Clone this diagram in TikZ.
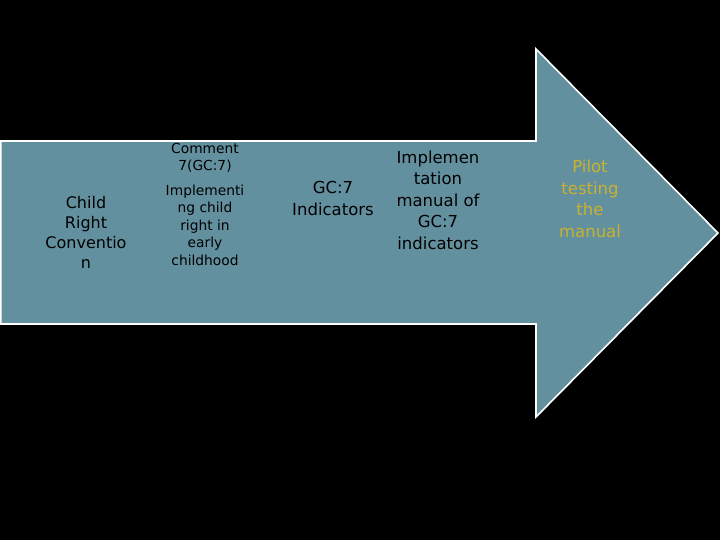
\documentclass[tikz,border=0pt]{standalone}
\usepackage{fontspec}
\setmainfont{DejaVu Sans}
\usetikzlibrary{positioning}
\definecolor{arrowTeal}{HTML}{63909F}
\definecolor{stepGold}{HTML}{C9B22E}

\tikzset{
  steptext/.style={align=center, text=black, inner sep=0pt},
  bigtext/.style={steptext, font=\fontsize{16}{20}\selectfont},
  smalltext/.style={steptext, font=\fontsize{13.8}{17.5}\selectfont},
}

\begin{document}
\begin{tikzpicture}[x=1pt, y=-1pt]
  \fill[black] (0,0) rectangle (720,540);
  \useasboundingbox (0,0) rectangle (720,540);
  % the arrow
  \draw[white, line width=1.6pt, fill=arrowTeal, line join=miter]
    (0.8,141) -- (536,141) -- (536,49) -- (718,233) -- (536,417) -- (536,324) -- (0.8,324) -- cycle;
  % steps
  \node[bigtext] (crc) at (86,232) {Child\\Right\\Conventio\\n};
  \node[smalltext] (comment) at (205,158) {Comment\\7(GC:7)};
  \node[smalltext] (early) at (205,225) {Implementi\\ng child\\right in\\early\\childhood};
  \node[bigtext, font=\fontsize{16.5}{22}\selectfont] (gcind) at (333,198) {GC:7\\Indicators};
  \node[bigtext, font=\fontsize{16.5}{21.5}\selectfont] (manual) at (438,200) {Implemen\\tation\\manual of\\GC:7\\indicators};
  \node[bigtext, font=\fontsize{16.5}{21.5}\selectfont, text=stepGold] (pilot) at (590,199) {Pilot\\testing\\the\\manual};
\end{tikzpicture}
\end{document}
